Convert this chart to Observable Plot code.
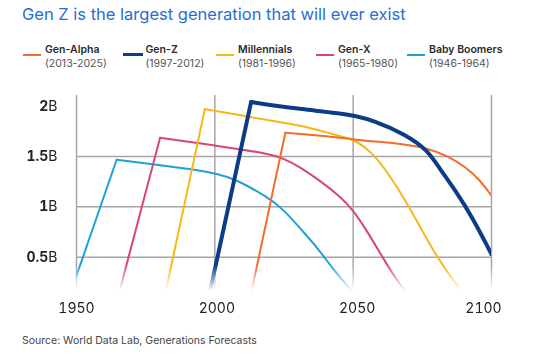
<!DOCTYPE html>
<html>
<head>
<meta charset="utf-8">
<script src="https://cdn.jsdelivr.net/npm/d3@7"></script>
<script src="https://cdn.jsdelivr.net/npm/@observablehq/plot@0.6"></script>
<style>
  html, body { margin: 0; padding: 0; background: #fff; }
  body { width: 552px; height: 355px; position: relative; overflow: hidden; font-family: Inter, "Open Sans", sans-serif; }
  #title { position: absolute; left: 22px; top: 4px; font-size: 16.5px; color: #1e6fd6; white-space: nowrap; }
  .leg { position: absolute; top: 43px; font-size: 10.5px; line-height: 13.5px; color: #333; white-space: nowrap; }
  .leg .sw { position: absolute; left: 0; top: 10px; width: 17.5px; height: 2px; }
  .leg .txt { position: absolute; left: 22px; top: 0; }
  .leg .nm { font-weight: 600; color: #2b2b2b; }
  .leg .yr { color: #555; }
  #chart { position: absolute; left: 0; top: 85px; width: 552px; height: 240px;
    -webkit-mask-image: linear-gradient(to bottom, #000 0px, #000 180px, rgba(0,0,0,0) 206px, rgba(0,0,0,0) 213px, #000 214px);
    mask-image: linear-gradient(to bottom, #000 0px, #000 180px, rgba(0,0,0,0) 206px, rgba(0,0,0,0) 213px, #000 214px); }
  #source { position: absolute; left: 22px; top: 334px; font-size: 10.5px; color: #444; white-space: nowrap; }
</style>
</head>
<body>
<div id="title">Gen Z is the largest generation that will ever exist</div>
<div id="legend"></div>
<div id="chart"></div>
<div id="source">Source: World Data Lab, Generations Forecasts</div>
<script>
// ---- data ----
const series = ["Gen-Alpha", "Gen-Z", "Millennials", "Gen-X", "Baby Boomers"];
const cohorts = ["(2013-2025)", "(1997-2012)", "(1981-1996)", "(1965-1980)", "(1946-1964)"];
const colors = ["#f26d2b", "#0b3c87", "#f7b718", "#d6457d", "#20a0da"];
// [year, population in billions]; index 1 is each generation's peak
const genAlpha = [[2012, 0], [2025.5, 1.735], [2045, 1.69], [2051, 1.665], [2057, 1.65], [2069, 1.62], [2077, 1.58], [2084, 1.51], [2091, 1.39], [2096, 1.26], [2100, 1.11]];
const genZ = [[1997, 0], [2013.1, 2.04], [2020, 2.01], [2031, 1.97], [2045, 1.93], [2051, 1.90], [2057, 1.86], [2069, 1.72], [2077, 1.56], [2081, 1.39], [2087, 1.16], [2093, 0.90], [2100, 0.53]];
const millennials = [[1981, 0], [1996.4, 1.97], [2007, 1.92], [2019, 1.86], [2031, 1.81], [2044, 1.71], [2050, 1.675], [2057, 1.54], [2063, 1.32], [2069, 1.06], [2075, 0.76], [2081, 0.47], [2087, 0.24], [2090, 0.15]];
const genX = [[1964, 0], [1980.2, 1.685], [1995, 1.63], [2007, 1.58], [2019, 1.53], [2025, 1.48], [2031, 1.39], [2037, 1.28], [2045, 1.11], [2050, 0.97], [2055, 0.76], [2060, 0.53], [2065, 0.30], [2070, 0.12]];
const babyBoomers = [[1946, 0], [1964.5, 1.467], [1978, 1.42], [1993, 1.37], [2002, 1.32], [2007, 1.28], [2019, 1.10], [2025, 0.97], [2031, 0.78], [2037, 0.60], [2043, 0.37], [2049, 0.18], [2052, 0.10]];
const xTicks = [1950, 2000, 2050, 2100];
const yTicks = [0.5, 1, 1.5, 2];
const yGrid = [0.5, 1, 1.5];

// ---- legend ----
const legendLeft = [23, 123, 216, 316, 407];
const legend = d3.select("#legend");
series.forEach((name, i) => {
  const item = legend.append("div").attr("class", "leg").style("left", legendLeft[i] + "px");
  item.append("div").attr("class", "sw")
    .style("background", colors[i])
    .style("height", name === "Gen-Z" ? "3.5px" : "2px")
    .style("top", name === "Gen-Z" ? "9.5px" : "10.5px")
    .style("width", name === "Gen-Z" ? "19.5px" : "17.5px");
  const t = item.append("div").attr("class", "txt").style("left", name === "Gen-Z" ? "22.5px" : "22px");
  t.append("div").attr("class", "nm").text(name);
  t.append("div").attr("class", "yr").text(cohorts[i]);
});

// ---- chart ----
const seriesData = [genAlpha, genZ, millennials, genX, babyBoomers];
const drawOrder = [4, 3, 2, 0, 1];
const lineMarks = [];
drawOrder.forEach(i => {
  const pts = seriesData[i].map(([year, value]) => ({name: series[i], year, value}));
  const sw = series[i] === "Gen-Z" ? 4 : 2;
  lineMarks.push(Plot.line(pts.slice(0, 2), {x: "year", y: "value", stroke: colors[i], strokeWidth: sw, clip: true}));
  lineMarks.push(Plot.line(pts.slice(1), {x: "year", y: "value", stroke: colors[i], strokeWidth: sw, clip: true, curve: "basis"}));
});

const chart = Plot.plot({
  width: 552,
  height: 240,
  marginTop: 10,
  marginBottom: 35,
  marginLeft: 76,
  marginRight: 61,
  x: {domain: [1950, 2100]},
  y: {domain: [0.17, 2.105]},
  style: {fontFamily: "Inter, 'Open Sans', sans-serif", background: "transparent", color: "#222"},
  marks: [
    Plot.gridY(yGrid, {stroke: "#a6a6a6", strokeOpacity: 1, strokeWidth: 1.5}),
    Plot.gridX(xTicks, {stroke: "#a6a6a6", strokeOpacity: 1, strokeWidth: 1.5}),
    ...lineMarks,
    Plot.axisX(xTicks, {tickSize: 0, tickPadding: 13, fontSize: 14, tickFormat: d => String(d), label: null}),
    Plot.axisY(yTicks, {tickSize: 0, tickPadding: 19, fontSize: 14, tickFormat: d => d + "B", label: null})
  ]
});
document.getElementById("chart").appendChild(chart);

// bold numerals, regular unit
d3.select(chart).selectAll('g[aria-label="y-axis tick label"] text').each(function () {
  const t = this.textContent;
  const s = d3.select(this);
  s.text("");
  s.append("tspan").attr("font-weight", 700).text(t.replace("B", ""));
  s.append("tspan").attr("font-weight", 400).text("B");
});
// nudge x labels like the reference
d3.select(chart).selectAll('g[aria-label="x-axis tick label"] text').each(function (d, i) {
  const shift = [0, 2, 4, -8][i] || 0;
  d3.select(this).attr("dx", shift);
});
</script>
</body>
</html>
